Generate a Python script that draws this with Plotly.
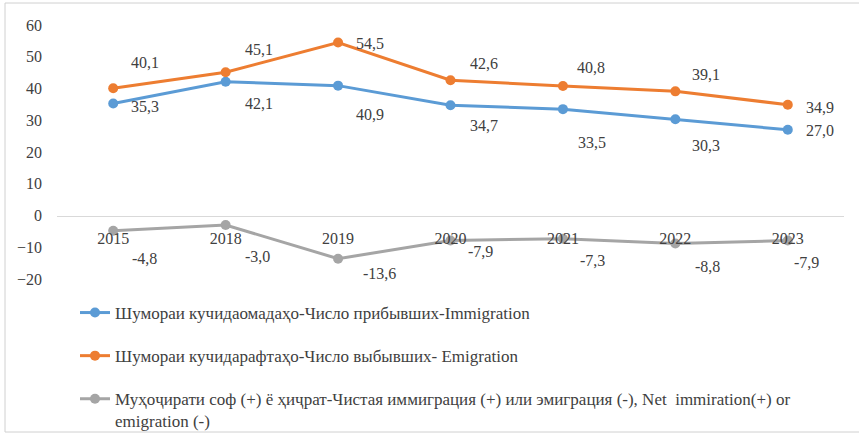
import plotly.graph_objects as go

years = ["2015", "2018", "2019", "2020", "2021", "2022", "2023"]
immigration = [35.3, 42.1, 40.9, 34.7, 33.5, 30.3, 27.0]
emigration = [40.1, 45.1, 54.5, 42.6, 40.8, 39.1, 34.9]
net = [-4.8, -3.0, -13.6, -7.9, -7.3, -8.8, -7.9]

names = [
    "Шумораи кучидаомадаҳо-Число прибывших-Immigration",
    "Шумораи кучидарафтаҳо-Число выбывших- Emigration",
    "Муҳоҷирати соф (+) ё ҳиҷрат-Чистая иммиграция (+) или эмиграция (-), Net  immiration(+) or<br>emigration (-)",
]
colors = ["#5B9BD5", "#ED7D31", "#A5A5A5"]

# label offsets in pixels (dx, dy downward)
off_imm = [(32, 3), (33, 22), (32, 29), (33, 20), (29, 33), (31, 26), (32, 1)]
off_emi = [(32, -26), (33, -23), (32, 1), (33, -17), (28, -18), (31, -17), (32, 3)]
off_net = [(31, 28), (32, 31), (41, 15), (30, 11), (30, 22), (32, 23), (19, 22)]

FONT = "Liberation Serif"
TXT = "#404040"

W, H = 859, 434
ML, MR, MT, MB = 57, 15, 25, 0
PH = H - MT - MB          # paper height in px
PW = W - ML - MR
plot_h = 279 - MT         # plot area height in px
dom0 = 1 - plot_h / PH


def py(px):  # pixel y from top -> paper fraction
    return (H - MB - px) / PH


def pxf(px):  # pixel x -> paper fraction
    return (px - ML) / PW


fig = go.Figure()
series = [immigration, emigration, net]
offs = [off_imm, off_emi, off_net]
for i, (vals, nm, col) in enumerate(zip(series, names, colors)):
    fig.add_trace(go.Scatter(
        x=years, y=vals, name=nm, mode="lines+markers",
        line=dict(color=col, width=3), marker=dict(color=col, size=10),
        legendgroup=f"g{i}",
    ))

annotations = []
for vals, off in zip(series, offs):
    for k, (v, (dx, dy)) in enumerate(zip(vals, off)):
        annotations.append(dict(
            x=k, y=v, xref="x", yref="y", text=f"{v:.1f}".replace(".", ","),
            showarrow=False, xshift=dx, yshift=-dy,
            font=dict(family=FONT, size=16, color=TXT),
        ))

fig.update_layout(
    width=W, height=H,
    margin=dict(l=ML, r=MR, t=MT, b=MB, autoexpand=False),
    paper_bgcolor="white", plot_bgcolor="white",
    font=dict(family=FONT, size=16, color=TXT),
    showlegend=True,
    legend=dict(
        x=pxf(80) - 5 / PW, y=py(295), xanchor="left", yanchor="top",
        orientation="v", traceorder="grouped", tracegroupgap=18,
        valign="top",
        font=dict(family=FONT, size=17, color=TXT),
        bgcolor="rgba(0,0,0,0)",
    ),
    annotations=annotations,
    shapes=[dict(type="rect", xref="paper", yref="paper", layer="above",
                 x0=pxf(5), x1=pxf(870), y0=py(432), y1=py(3),
                 line=dict(color="#D0D0D0", width=1))],
    xaxis=dict(
        type="category", range=[-0.5, 6.5], anchor="free",
        position=dom0 + 0.25 * (1 - dom0),
        showline=True, linecolor="#D9D9D9", linewidth=1, showgrid=False,
        zeroline=False, ticks="", ticklabelstandoff=8,
        tickfont=dict(family=FONT, size=16, color=TXT),
    ),
    yaxis=dict(
        domain=[dom0, 1],
        range=[-20, 60], dtick=10, showgrid=False, zeroline=False,
        showline=False, ticks="", ticklabelstandoff=14,
        tickfont=dict(family=FONT, size=16, color=TXT),
    ),
)
fig.write_html("out.html", config={"displayModeBar": False},
               post_script="document.body.style.margin='0';document.body.style.overflow='hidden';")
